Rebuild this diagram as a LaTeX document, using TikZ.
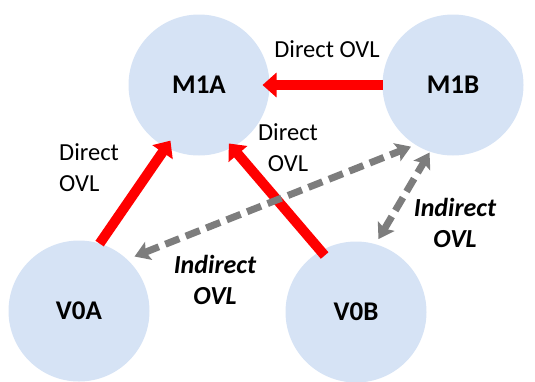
\documentclass[tikz,border=0pt]{standalone}
\usepackage{fontspec}
\setmainfont{Carlito}
\usetikzlibrary{arrows.meta, positioning}

\definecolor{ovlblue}{RGB}{214,227,245}
\definecolor{ovlgray}{RGB}{125,125,125}

\begin{document}
\begin{tikzpicture}[x=1pt, y=-1pt,
  layer/.style={circle, fill=ovlblue, inner sep=0pt, outer sep=0pt,
    minimum size=141pt, font=\fontsize{27}{30}\selectfont\bfseries},
  direct/.style={draw=red, line width=10pt,
    -{Triangle[width=24pt, length=14pt]}},
  indirect/.style={draw=ovlgray, line width=7pt, dash pattern=on 15pt off 7pt,
    {Stealth[width=19pt, length=15pt, inset=3pt]}-{Stealth[width=19pt, length=15pt, inset=3pt]}},
  plain/.style={font=\fontsize{24.5}{31}\selectfont, inner sep=0pt},
  bolder/.style={font=\fontsize{26}{31}\selectfont\bfseries\itshape, inner sep=0pt, align=center}]

  \useasboundingbox (0,0) rectangle (535,381);

  % the four layers
  \node[layer] (M1A) at (199,85) {M1A};
  \node[layer] (M1B) at (453,85) {M1B};
  \node[layer] (V0A) at (79,311) {V0A};
  \node[layer] (V0B) at (356,312) {V0B};

  % direct overlaps
  \draw[direct, shorten >=-7pt] (M1B.west) -- (M1A.east);
  \draw[direct, shorten >=-8pt] (V0A.73) -- (M1A.242);
  \draw[direct, shorten >=-5pt, shorten <=-6pt] (V0B.120) -- (M1A.298);

  % indirect overlaps
  \draw[indirect, shorten <=8pt, shorten >=5pt] (V0A.47) -- (M1B.238);
  \draw[indirect, shorten <=6pt, shorten >=1pt] (V0B.74) -- (M1B.251);

  % labels
  \node[plain] (dtop) at (327,49) {Direct OVL};
  \node[plain, align=left, anchor=west] (dleft) at (59,168) {Direct\\OVL};
  \node[plain, align=center] (dmid) at (288,148) {Direct\\OVL};
  \node[bolder] (ibot) at (215,280) {Indirect\\OVL};
  \node[bolder] (iright) at (455,223) {Indirect\\OVL};
\end{tikzpicture}
\end{document}
